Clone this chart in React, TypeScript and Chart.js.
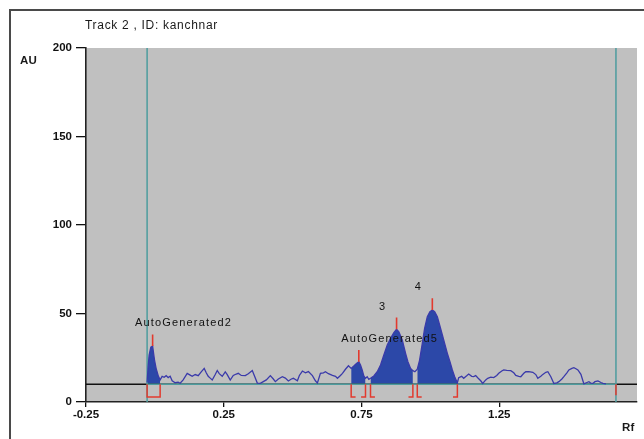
import React, { useEffect, useRef } from "react";
import { Chart, registerables } from "chart.js";

Chart.register(...registerables);

// ---- data ----
const titleText = "Track 2 , ID: kanchnar";
const xTicks = [-0.25, 0.25, 0.75, 1.25];
const xMin = -0.25;
const xMax = 1.75;
const yMin = 0;
const yMax = 200;
const yStep = 50;

const baselineAU = 10;
const trackStart = -0.0282;
const trackEnd = 1.6736;

const traceRf = [
  -0.0282, -0.0245, -0.0209, -0.0147, -0.0082, -0.0016, 0.0045, 0.0129, 0.0191,
  0.0264, 0.0336, 0.0409, 0.0482, 0.0555, 0.0627, 0.0736, 0.0845, 0.0918, 0.1027,
  0.1173, 0.1282, 0.1355, 0.1464, 0.1573, 0.1682, 0.1791, 0.1864, 0.1936, 0.2009,
  0.2082, 0.2191, 0.2264, 0.2336, 0.2445, 0.2555, 0.2627, 0.2736, 0.2845, 0.2955,
  0.3027, 0.3136, 0.3282, 0.3391, 0.3536, 0.3609, 0.3718, 0.3827, 0.3936, 0.4045,
  0.4191, 0.43, 0.4373, 0.4482, 0.4627, 0.4736, 0.4845, 0.4955, 0.5027, 0.5173,
  0.5245, 0.5355, 0.5464, 0.5573, 0.5718, 0.5827, 0.59, 0.6009, 0.6118, 0.6191,
  0.63, 0.6445, 0.6555, 0.6627, 0.6736, 0.6809, 0.6918, 0.7027,
  0.7125, 0.722, 0.7318, 0.7402, 0.7464, 0.7525, 0.7584, 0.7645,
  0.7707, 0.7765,
  0.7827, 0.7947, 0.8071, 0.8191, 0.8311, 0.8435, 0.8555, 0.8675, 0.8773, 0.8856,
  0.898, 0.91, 0.9184, 0.9282, 0.9365,
  0.9438,
  0.9525, 0.9609, 0.9707, 0.9791, 0.9889, 0.9984, 1.0071, 1.0155, 1.0253, 1.0336,
  1.0435, 1.0518, 1.0616, 1.0711, 1.0798, 1.0882, 1.098,
  1.1027, 1.1136, 1.1209, 1.1318, 1.1391, 1.15, 1.1573, 1.1645, 1.1718, 1.1827,
  1.19, 1.2009, 1.2082, 1.2191, 1.23, 1.2409, 1.2482, 1.2591, 1.2664, 1.2773,
  1.2918, 1.3027, 1.31, 1.3209, 1.3282, 1.3391, 1.3464, 1.3573, 1.3718, 1.3827,
  1.39, 1.4009, 1.4082, 1.4191, 1.4264, 1.4373, 1.4482, 1.4591, 1.4664, 1.4773,
  1.4845, 1.4955, 1.5027, 1.5136, 1.5209, 1.5282, 1.5355, 1.5464, 1.5536, 1.5573,
  1.5682, 1.5755, 1.5827, 1.59, 1.5973, 1.6082, 1.6191, 1.6264, 1.6373,
];

const traceAU = [
  11, 20, 26.5, 31, 31.6, 24, 19, 14.5, 12.5,
  14.5, 14.0, 14.9, 13.8, 14.6, 12.0, 10.9, 11.2, 10.6, 12.5,
  16.2, 15.2, 14.5, 15.5, 14.9, 17.0, 19.0, 16.5, 14.5, 13.5,
  12.4, 15.5, 17.8, 16.0, 14.5, 17.0, 15.5, 12.4, 15.0, 15.8,
  16.2, 15.0, 14.9, 16.0, 17.8, 15.0, 10.7, 10.5, 11.5, 12.5,
  14.9, 13.0, 11.5, 13.0, 14.3, 13.5, 11.9, 13.0, 13.4, 12.0,
  15.0, 17.5, 16.5, 17.2, 14.9, 12.0, 10.7, 16.2, 16.5, 17.1,
  16.0, 15.0, 14.5, 13.4, 15.0, 16.2, 18.5, 20.5,
  19.0, 20.3, 21.8, 22.8, 20.9, 18.1, 14.7, 13.4,
  14.3, 12.8,
  13.4, 14.7, 17.1, 20.9, 26.6, 32.2, 36.0, 39.2, 41.1, 39.7,
  35.0, 27.5, 22.8, 19.0, 17.7,
  17.1,
  18.5, 23.7, 33.1, 41.6, 48.2, 51.0, 52.0, 51.0, 48.2, 43.5,
  37.9, 33.1, 27.5, 22.8, 18.1, 14.3, 10.9,
  13.7, 14.5, 13.4, 14.8, 15.8, 14.5, 14.3, 14.9, 13.7, 12.0,
  10.5, 12.5, 13.4, 14.0, 13.8, 15.0, 16.2, 17.5, 18.1, 17.9,
  17.7, 16.5, 15.0, 14.5, 14.3, 16.2, 17.1, 17.2, 16.8, 15.5,
  13.4, 14.5, 15.6, 16.8, 17.1, 14.3, 10.5, 10.8, 11.5, 13.0,
  14.3, 16.5, 18.1, 19.0, 19.4, 18.8, 18.1, 15.6, 12.0, 10.2,
  11.0, 11.5, 10.6, 10.5, 11.5, 11.9, 11.0, 10.5, 10.2,
];

const peakLabels = ["AutoGenerated2", "AutoGenerated5", "3", "4"];
const peakRf = [-0.0082, 0.7402, 0.8773, 1.0071];
const peakAU = [31.6, 22.8, 41.1, 52.0];
const regionStart = [-0.0282, 0.7125, 0.7827, 0.9525];
const regionEnd = [0.0191, 0.7645, 0.9365, 1.098];

// ---- styles ----
const FONT = "'Liberation Sans', Arial, sans-serif";
const GRAY = "#c0c0c0";
const TRACE = "#3a3aaa";
const FILL = "#2c48a8";
const TEAL = "#4d9c9e";
const RED = "#e23a2e";
const markerAU = 6.6;
const bracketDepthAU = 7.2;
const bracketArm = 0.016;

export default function App() {
  const ref = useRef<HTMLCanvasElement | null>(null);

  useEffect(() => {
    document.body.style.margin = "0";
    const canvas = ref.current;
    if (!canvas) return;

    const tracePts = traceRf.map((x, i) => ({ x, y: traceAU[i] }));

    const fillSets = regionStart.map((s, i) => ({
      data: tracePts.filter((p) => p.x >= s - 1e-6 && p.x <= regionEnd[i] + 1e-6),
      borderWidth: 0,
      borderColor: FILL,
      backgroundColor: FILL,
      fill: { value: baselineAU },
      pointRadius: 0,
      order: 6,
    }));

    const markerPts: any[] = [];
    peakRf.forEach((x, i) => {
      markerPts.push({ x, y: peakAU[i] }, { x, y: peakAU[i] + markerAU }, { x, y: null });
    });

    const low = baselineAU - bracketDepthAU;
    const bracketPts: any[] = [];
    regionStart.forEach((s, i) => {
      const e = regionEnd[i];
      if (e - s < 0.05) {
        bracketPts.push({ x: s, y: baselineAU }, { x: s, y: low }, { x: e, y: low }, { x: e, y: baselineAU }, { x: e, y: null });
      } else {
        bracketPts.push({ x: s, y: baselineAU }, { x: s, y: low }, { x: s + bracketArm, y: low }, { x: s, y: null });
        bracketPts.push({ x: e - bracketArm, y: low }, { x: e, y: low }, { x: e, y: baselineAU }, { x: e, y: null });
      }
    });
    bracketPts.push({ x: trackEnd, y: baselineAU }, { x: trackEnd, y: low + 1 });

    const bgPlugin = {
      id: "bg",
      beforeDraw(chart: any) {
        const { ctx, chartArea } = chart;
        ctx.save();
        ctx.fillStyle = "#ffffff";
        ctx.fillRect(0, 0, chart.width, chart.height);
        ctx.fillStyle = GRAY;
        ctx.fillRect(chartArea.left, chartArea.top, chartArea.right - chartArea.left, chartArea.bottom - chartArea.top);
        ctx.restore();
      },
      afterDraw(chart: any) {
        const { ctx } = chart;
        ctx.save();
        ctx.strokeStyle = "#4a4a4a";
        ctx.lineWidth = 2;
        ctx.beginPath();
        ctx.moveTo(10, chart.height);
        ctx.lineTo(10, 10);
        ctx.lineTo(chart.width, 10);
        ctx.stroke();
        ctx.fillStyle = "#1a1a1a";
        ctx.textBaseline = "middle";
        ctx.textAlign = "left";
        ctx.font = `12px ${FONT}`;
        (ctx as any).letterSpacing = "0.7px";
        ctx.fillText(titleText, 85, 26);
        ctx.font = `bold 11.5px ${FONT}`;
        (ctx as any).letterSpacing = "0.3px";
        ctx.fillText("AU", 20, 61);
        ctx.fillText("Rf", 622, 428);
        ctx.restore();
      },
    };

    const labelPlugin = {
      id: "peakLabels",
      afterDatasetsDraw(chart: any) {
        const { ctx } = chart;
        const xs = chart.scales.x;
        const ys = chart.scales.y;
        ctx.save();
        ctx.fillStyle = "#111";
        ctx.font = `11px ${FONT}`;
        (ctx as any).letterSpacing = "1.15px";
        ctx.textBaseline = "middle";
        ctx.textAlign = "left";
        peakLabels.forEach((t, i) => {
          const px = xs.getPixelForValue(peakRf[i]) - 17.5;
          const py = ys.getPixelForValue(peakAU[i] + markerAU) - 11;
          ctx.fillText(t, px, py);
        });
        ctx.restore();
      },
    };

    const chart = new Chart(canvas, {
      type: "line",
      data: {
        datasets: [
          {
            data: bracketPts,
            borderColor: RED,
            borderWidth: 1.5,
            pointRadius: 0,
            spanGaps: false,
            fill: false,
            order: 1,
          },
          {
            data: markerPts,
            borderColor: RED,
            borderWidth: 1.6,
            pointRadius: 0,
            spanGaps: false,
            fill: false,
            order: 1,
          },
          {
            data: tracePts,
            borderColor: TRACE,
            borderWidth: 1.3,
            pointRadius: 0,
            fill: false,
            order: 2,
          },
          {
            data: [
              { x: trackStart, y: yMin },
              { x: trackStart, y: yMax },
              { x: trackStart, y: null },
              { x: trackEnd, y: yMin },
              { x: trackEnd, y: yMax },
            ],
            borderColor: TEAL,
            borderWidth: 1.5,
            pointRadius: 0,
            spanGaps: false,
            fill: false,
            order: 3,
          },
          {
            data: [
              { x: trackStart, y: baselineAU },
              { x: trackEnd, y: baselineAU },
            ],
            borderColor: TEAL,
            borderWidth: 1.4,
            pointRadius: 0,
            fill: false,
            order: 4,
          },
          {
            data: [
              { x: xMin, y: baselineAU },
              { x: xMax, y: baselineAU },
            ],
            borderColor: "#111",
            borderWidth: 1.4,
            pointRadius: 0,
            fill: false,
            order: 5,
          },
          ...fillSets,
        ] as any,
      },
      options: {
        animation: false,
        responsive: false,
        devicePixelRatio: 1,
        events: [],
        layout: { padding: { left: 0, top: 48, right: 7, bottom: 17 } },
        plugins: {
          legend: { display: false },
          tooltip: { enabled: false },
          title: { display: false },
        },
        scales: {
          x: {
            type: "linear",
            min: xMin,
            max: xMax,
            afterBuildTicks: (scale: any) => {
              scale.ticks = xTicks.map((v) => ({ value: v }));
            },
            afterFit: (scale: any) => {
              scale.height = 20;
            },
            ticks: {
              autoSkip: false,
              maxRotation: 0,
              padding: 1,
              color: "#111",
              font: { family: FONT, size: 11.5, weight: "bold" },
              callback: (v: any) => String(v),
            },
            grid: {
              drawOnChartArea: false,
              drawTicks: true,
              tickLength: 5,
              color: "#111",
              lineWidth: 1.3,
            },
            border: { display: true, color: "#222", width: 1.6 },
          },
          y: {
            type: "linear",
            min: yMin,
            max: yMax,
            afterFit: (scale: any) => {
              scale.width = 86;
            },
            ticks: {
              stepSize: yStep,
              padding: 4,
              color: "#111",
              font: { family: FONT, size: 11.5, weight: "bold" },
            },
            grid: {
              drawOnChartArea: false,
              drawTicks: true,
              tickLength: 10,
              color: "#111",
              lineWidth: 1.3,
            },
            border: { display: true, color: "#222", width: 1.6 },
          },
        },
      } as any,
      plugins: [bgPlugin, labelPlugin],
    });

    return () => chart.destroy();
  }, []);

  return <canvas ref={ref} width={644} height={439} style={{ display: "block" }} />;
}
